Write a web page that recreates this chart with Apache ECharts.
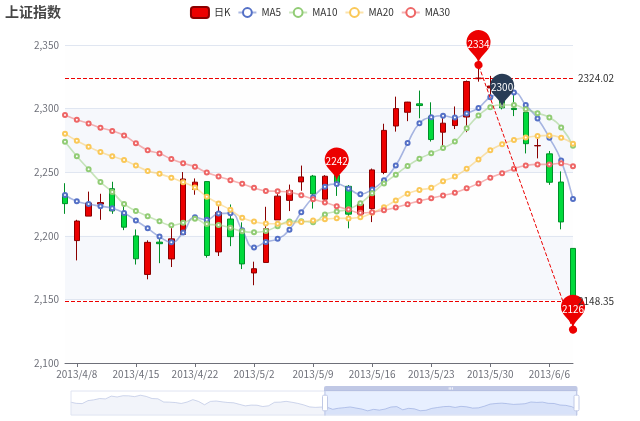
<!DOCTYPE html>
<html>
<head>
<meta charset="utf-8">
<script src="https://cdn.jsdelivr.net/npm/echarts@6/dist/echarts.min.js"></script>
<style>html,body{margin:0;padding:0;background:#fff;}#main{width:640px;height:421px;}</style>
</head>
<body>
<div id="main"></div>
<script>
const dates = ['2013/1/24','2013/1/25','2013/1/28','2013/1/29','2013/1/30','2013/1/31','2013/2/1','2013/2/4','2013/2/5','2013/2/6','2013/2/7','2013/2/8','2013/2/18','2013/2/19','2013/2/20','2013/2/21','2013/2/22','2013/2/25','2013/2/26','2013/2/27','2013/2/28','2013/3/1','2013/3/4','2013/3/5','2013/3/6','2013/3/7','2013/3/8','2013/3/11','2013/3/12','2013/3/13','2013/3/14','2013/3/15','2013/3/18','2013/3/19','2013/3/20','2013/3/21','2013/3/22','2013/3/25','2013/3/26','2013/3/27','2013/3/28','2013/3/29','2013/4/1','2013/4/2','2013/4/3','2013/4/8','2013/4/9','2013/4/10','2013/4/11','2013/4/12','2013/4/15','2013/4/16','2013/4/17','2013/4/18','2013/4/19','2013/4/22','2013/4/23','2013/4/24','2013/4/25','2013/4/26','2013/5/2','2013/5/3','2013/5/6','2013/5/7','2013/5/8','2013/5/9','2013/5/10','2013/5/13','2013/5/14','2013/5/15','2013/5/16','2013/5/17','2013/5/20','2013/5/21','2013/5/22','2013/5/23','2013/5/24','2013/5/27','2013/5/28','2013/5/29','2013/5/30','2013/5/31','2013/6/3','2013/6/4','2013/6/5','2013/6/6','2013/6/7','2013/6/13'];
const opens = [2320.26,2300,2295.35,2347.22,2360.75,2383.43,2377.41,2425.92,2411,2432.68,2430.69,2416.62,2441.91,2420.26,2383.49,2378.82,2322.94,2320.62,2313.74,2297.77,2322.32,2364.54,2332.08,2274.81,2333.61,2340.44,2326.42,2314.68,2309.16,2282.17,2255.77,2269.31,2267.29,2244.26,2257.74,2318.21,2321.4,2334.74,2318.58,2299.38,2273.55,2238.49,2229.46,2234.9,2232.69,2196.24,2215.47,2224.93,2236.98,2218.09,2199.91,2169.63,2195.03,2181.82,2201.12,2236.4,2242.62,2187.35,2213.19,2203.89,2170.78,2179.05,2212.5,2227.86,2242.39,2246.96,2228.82,2247.68,2238.9,2217.09,2221.34,2249.81,2286.33,2297.11,2303.75,2293.81,2281.45,2286.66,2293.4,2323.54,2316.25,2320.74,2300.21,2297.1,2270.71,2264.43,2242.26,2190.1];
const closes = [2320.26,2291.3,2346.5,2358.98,2382.48,2385.42,2419.02,2428.15,2433.13,2434.48,2418.53,2432.4,2421.56,2382.91,2397.18,2325.95,2314.16,2325.82,2293.34,2313.22,2365.59,2359.51,2273.4,2326.31,2347.18,2324.29,2318.61,2310.59,2286.6,2263.97,2270.28,2278.4,2240.02,2257.43,2317.37,2324.24,2328.28,2326.72,2297.67,2301.26,2236.3,2236.62,2234.4,2227.74,2225.29,2211.59,2225.77,2226.13,2219.55,2206.78,2181.94,2194.85,2193.8,2197.6,2244.64,2242.17,2184.54,2218.32,2199.31,2177.91,2174.12,2205.5,2231.17,2235.57,2246.3,2232.97,2246.83,2241.92,2217.01,2224.8,2251.81,2282.87,2299.99,2305.11,2302.4,2275.67,2288.53,2293.08,2321.32,2324.02,2317.75,2300.59,2299.25,2272.42,2270.93,2242.11,2210.9,2148.35];
const lows = [2287.3,2288.26,2295.35,2337.35,2347.89,2371.23,2369.57,2417.58,2403.3,2427.7,2394.22,2414.4,2415.43,2373.53,2370.61,2309.17,2308.76,2315.01,2289.89,2292.03,2308.92,2330.86,2259.25,2270.1,2321.6,2304.27,2314.59,2296.58,2264.83,2253.25,2253.31,2250,2239.21,2232.02,2257.42,2311.6,2314.97,2319.91,2281.12,2289,2232.91,2228.81,2227.31,2220.44,2217.25,2180.67,2215.47,2212.56,2217.26,2204.44,2177.39,2165.78,2178.47,2175.44,2200.58,2232.26,2182.81,2184.11,2191.85,2173.86,2161.14,2179.05,2212.5,2219.44,2235.42,2221.38,2225.81,2231.36,2205.87,2213.58,2210.77,2248.41,2281.9,2290.12,2292.43,2274.1,2270.25,2283.94,2281.47,2321.17,2310.49,2299.37,2294.11,2264.76,2260.87,2240.07,2205.07,2126.22];
const highs = [2362.94,2308.38,2346.92,2363.8,2383.76,2391.82,2421.15,2440.38,2437.42,2441.73,2433.89,2443.03,2444.8,2427.07,2397.94,2378.82,2330.88,2338.78,2340.71,2324.63,2366.16,2369.65,2333.54,2328.14,2351.44,2352.02,2333.67,2320.96,2333.29,2286.33,2276.22,2312.08,2276.05,2261.31,2317.86,2330.81,2332,2344.89,2319.99,2323.48,2273.55,2246.87,2243.95,2253.42,2241.34,2212.59,2234.73,2233.04,2242.48,2226.26,2204.99,2196.43,2197.51,2206.03,2250.11,2245.12,2242.62,2226.12,2224.63,2210.58,2179.65,2222.81,2236.07,2240.26,2255.21,2247.86,2247.67,2250.85,2239.93,2225.19,2252.87,2288.09,2309.39,2305.3,2314.18,2304.95,2292.59,2301.7,2322.1,2334.33,2325.72,2325.53,2313.43,2297.1,2276.86,2266.69,2250.63,2190.1];
const maWindows = [5, 10, 20, 30];
const maColors = ['#5470c6', '#91cc75', '#fac858', '#ee6666'];

const values = dates.map((d, i) => [opens[i], closes[i], lows[i], highs[i]]);
function calculateMA(n) {
  const out = [];
  for (let i = 0; i < closes.length; i++) {
    if (i < n - 1) { out.push('-'); continue; }
    let s = 0;
    for (let j = 0; j < n; j++) s += closes[i - j];
    out.push(+(s / n).toFixed(3));
  }
  return out;
}
const upColor = '#ec0000', upBorderColor = '#8A0000', downColor = '#00da3c', downBorderColor = '#008F28';
const axisGrey = '#6E7079';
const FONT = '"Noto Sans CJK SC", "Noto Sans", sans-serif';
const labelEvery = (idx) => idx >= 45 && (idx - 45) % 5 === 0;
const chart = echarts.init(document.getElementById('main'));
const option = {
  animation: false,
  textStyle: { fontFamily: FONT },
  title: { text: '上证指数', left: 0, top: 0, padding: [5, 5], textStyle: { fontFamily: FONT, fontSize: 14, fontWeight: 'bold', color: '#464646' } },
  tooltip: { trigger: 'axis', axisPointer: { type: 'cross' } },
  legend: {
    top: 1, left: 'center', itemGap: 7, itemWidth: 18, itemHeight: 11,
    textStyle: { color: '#333', fontSize: 10, fontFamily: FONT },
    data: ['日K', 'MA5', 'MA10', 'MA20', 'MA30']
  },
  grid: { left: 65, right: 67, top: 45, bottom: 58 },
  xAxis: {
    type: 'category', data: dates, boundaryGap: false,
    axisLine: { onZero: false, lineStyle: { color: axisGrey } },
    axisTick: { interval: labelEvery, length: 4, lineStyle: { color: axisGrey } },
    axisLabel: { interval: labelEvery, color: axisGrey, fontSize: 10, margin: 6, fontFamily: FONT },
    splitLine: { show: false }, min: 'dataMin', max: 'dataMax'
  },
  yAxis: {
    scale: true,
    axisLabel: { color: axisGrey, fontSize: 10, margin: 6, fontFamily: FONT },
    splitLine: { lineStyle: { color: '#E0E6F1' } },
    splitArea: { show: true, areaStyle: { color: ['rgba(250,250,250,0.2)', 'rgba(210,219,238,0.2)'] } }
  },
  dataZoom: [
    { type: 'inside', start: 50, end: 100 },
    { show: true, type: 'slider', top: 386, height: 25, left: 68, right: 65, start: 50, end: 100, showDetail: false, moveHandleSize: 5 }
  ],
  series: [
    {
      name: '日K', type: 'candlestick', data: values,
      itemStyle: { color: upColor, color0: downColor, borderColor: upBorderColor, borderColor0: downBorderColor },
      markPoint: {
        symbolSize: 40,
        label: { formatter: p => p != null ? Math.round(p.value) + '' : '', color: '#fff', fontSize: 10, fontFamily: FONT },
        itemStyle: { color: upColor },
        data: [
          { name: 'Mark', coord: ['2013/5/31', 2300], value: 2300, itemStyle: { color: 'rgb(41,60,85)' } },
          { name: 'highest value', type: 'max', valueDim: 'highest' },
          { name: 'lowest value', type: 'min', valueDim: 'lowest' },
          { name: 'average value on close', type: 'average', valueDim: 'close' }
        ]
      },
      markLine: {
        symbol: ['none', 'none'],
        lineStyle: { color: upColor, type: 'dashed', width: 1 },
        label: { color: '#333', fontSize: 10, fontFamily: FONT },
        itemStyle: { color: upColor },
        data: [
          [
            { name: 'from lowest to highest', type: 'min', valueDim: 'lowest', symbol: 'circle', symbolSize: 8, label: { show: false }, emphasis: { label: { show: false } } },
            { type: 'max', valueDim: 'highest', symbol: 'circle', symbolSize: 8, label: { show: false }, emphasis: { label: { show: false } } }
          ],
          { name: 'min line on close', type: 'min', valueDim: 'close' },
          { name: 'max line on close', type: 'max', valueDim: 'close' }
        ]
      }
    }
  ].concat(maWindows.map((n, k) => ({
    name: 'MA' + n, type: 'line', data: calculateMA(n), smooth: true,
    color: maColors[k], symbol: 'emptyCircle', symbolSize: 4,
    itemStyle: { color: maColors[k], borderWidth: 1 },
    lineStyle: { opacity: 0.5, width: 1.6, color: maColors[k] }
  })))
};
chart.setOption(option);
</script>
</body>
</html>
